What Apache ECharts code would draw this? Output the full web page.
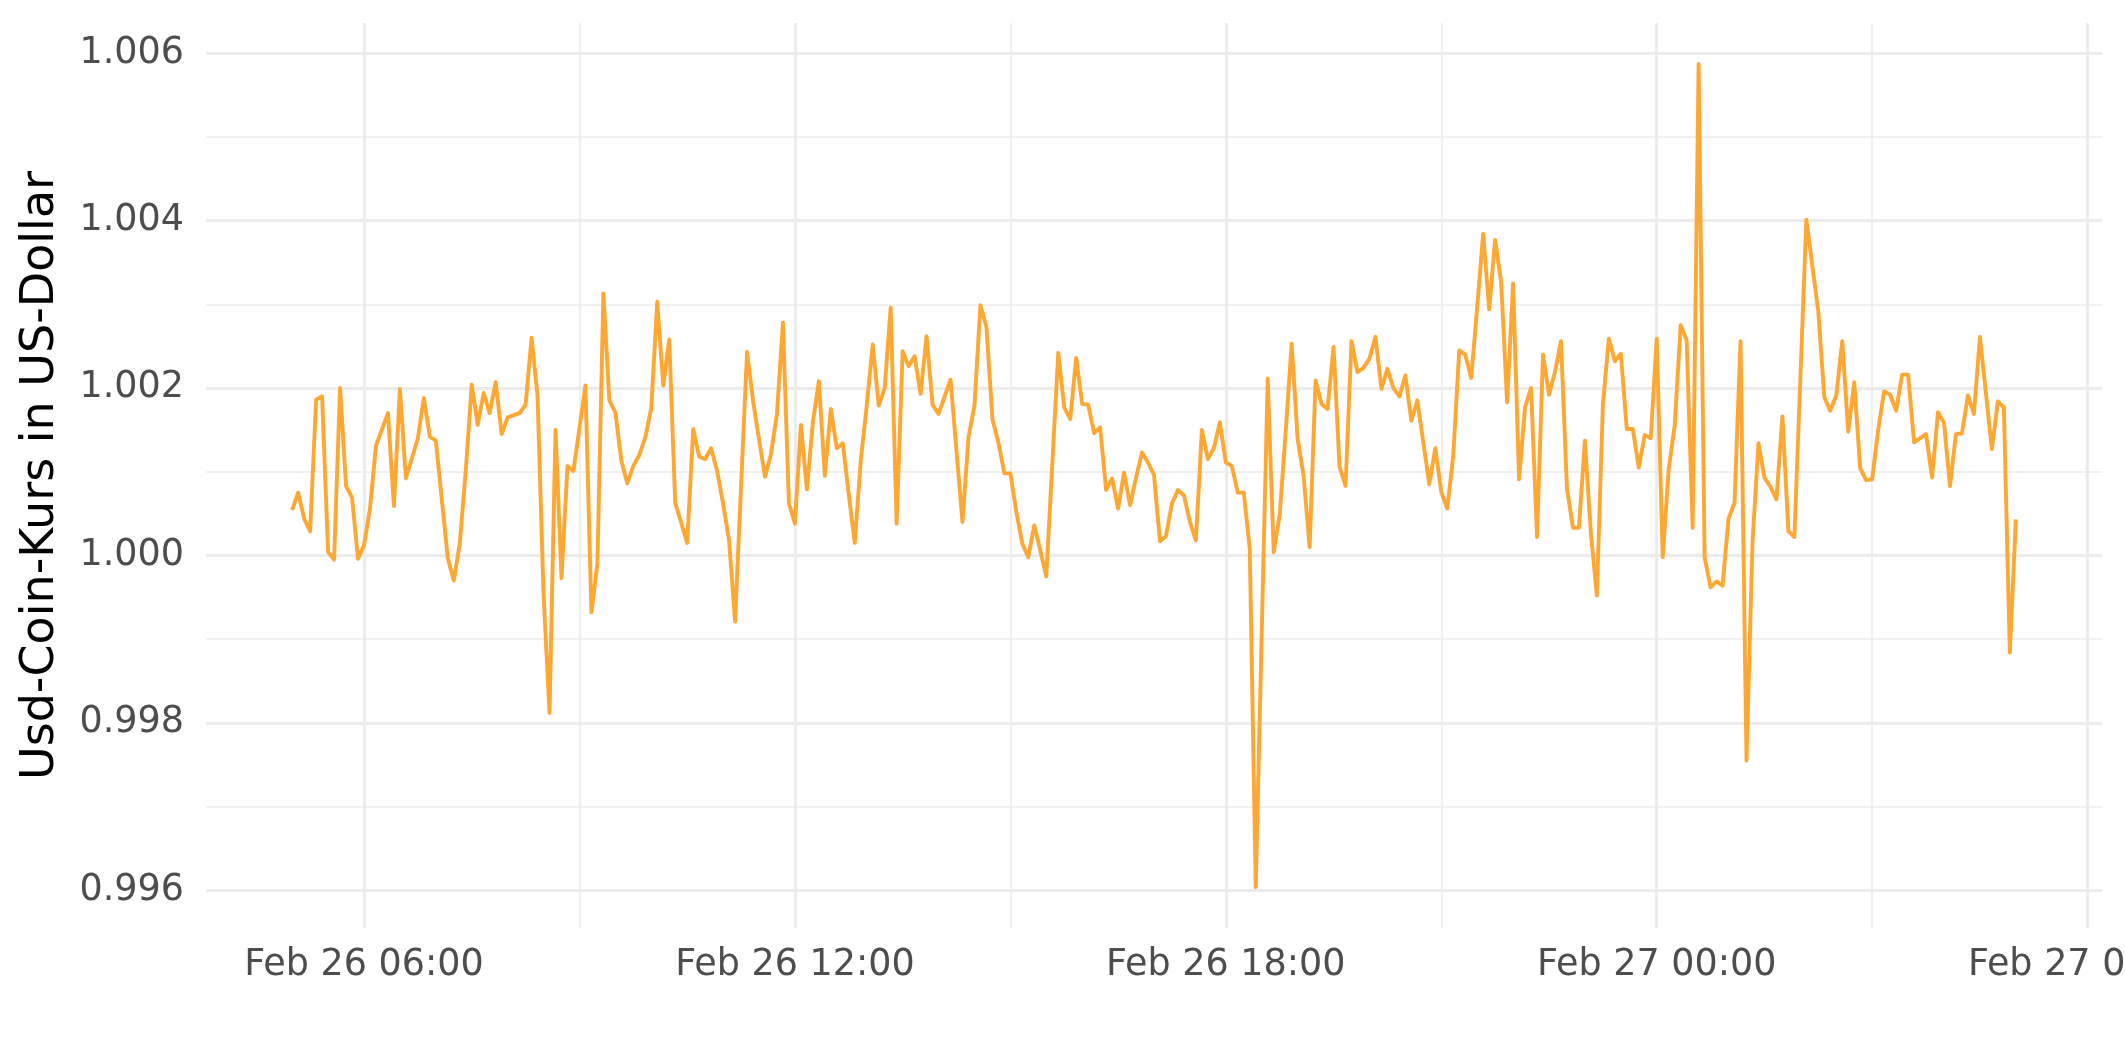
<!DOCTYPE html>
<html>
<head>
<meta charset="utf-8">
<script src="https://cdn.jsdelivr.net/npm/echarts@6/dist/echarts.min.js"></script>
<style>
  html, body { margin: 0; padding: 0; background: #ffffff; overflow: hidden; }
  #chart { width: 2125px; height: 1062px; }
</style>
</head>
<body>
<div id="chart"></div>
<script>
// minutes after Feb 26 05:00
const sampleMinutes = [
  0,5,10,15,20,25,30,35,40,45,
  50,55,60,65,70,80,85,90,95,105,
  110,115,120,130,135,140,145,150,155,160,
  165,170,175,180,190,195,200,205,210,215,
  220,225,230,235,245,250,255,260,265,270,
  275,280,285,290,295,300,305,310,315,320,
  325,330,335,340,345,350,355,360,365,370,
  380,385,390,395,400,405,410,415,420,425,
  430,435,440,445,450,455,460,465,470,475,
  480,485,490,495,500,505,510,515,520,525,
  530,535,540,550,560,565,570,575,580,585,
  590,595,600,605,610,615,620,625,630,640,
  645,650,655,660,665,670,675,680,685,690,
  695,700,705,710,715,720,725,730,735,740,
  745,750,755,760,765,770,775,780,785,790,
  795,800,805,815,820,825,830,835,840,845,
  850,855,860,865,870,875,880,885,890,895,
  900,905,910,915,920,925,930,935,940,945,
  950,955,960,965,970,975,980,985,990,995,
  1000,1005,1010,1015,1020,1025,1030,1035,1040,1045,
  1050,1055,1060,1065,1070,1075,1080,1085,1090,1095,
  1100,1105,1110,1115,1120,1125,1130,1135,1140,1145,
  1150,1155,1160,1165,1170,1175,1180,1185,1190,1195,
  1200,1205,1210,1215,1220,1225,1230,1235,1240,1245,
  1250,1255,1265,1275,1280,1285,1290,1295,1300,1305,
  1310,1315,1320,1325,1330,1335,1340,1345,1350,1355,
  1365,1370,1375,1380,1385,1390,1395,1400,1405,1410,
  1420,1425,1430,1435,1440
];
const usdcPrice = [
  1.00054,1.00075,1.00044,1.00029,1.00186,1.00190,1.00004,0.99995,1.00200,1.00083,
  1.00069,0.99996,1.00012,1.00056,1.00131,1.00170,1.00059,1.00199,1.00092,1.00140,
  1.00188,1.00142,1.00137,0.99997,0.99970,1.00014,1.00101,1.00204,1.00156,1.00194,
  1.00170,1.00207,1.00145,1.00165,1.00170,1.00180,1.00260,1.00190,0.99953,0.99812,
  1.00150,0.99973,1.00107,1.00101,1.00203,0.99932,0.99990,1.00313,1.00185,1.00171,
  1.00113,1.00086,1.00107,1.00120,1.00141,1.00176,1.00303,1.00203,1.00258,1.00063,
  1.00039,1.00015,1.00151,1.00118,1.00115,1.00128,1.00101,1.00062,1.00018,0.99921,
  1.00243,1.00185,1.00139,1.00094,1.00121,1.00169,1.00278,1.00062,1.00038,1.00156,
  1.00079,1.00159,1.00208,1.00095,1.00175,1.00128,1.00134,1.00073,1.00015,1.00113,
  1.00179,1.00252,1.00179,1.00200,1.00296,1.00038,1.00244,1.00226,1.00238,1.00193,
  1.00262,1.00180,1.00169,1.00210,1.00040,1.00141,1.00179,1.00299,1.00273,1.00163,
  1.00135,1.00098,1.00098,1.00052,1.00014,0.99998,1.00036,1.00006,0.99975,1.00242,
  1.00177,1.00163,1.00236,1.00181,1.00180,1.00146,1.00153,1.00078,1.00092,1.00056,
  1.00099,1.00060,1.00093,1.00123,1.00111,1.00096,1.00017,1.00023,1.00062,1.00078,
  1.00072,1.00040,1.00018,1.00150,1.00115,1.00128,1.00159,1.00111,1.00107,1.00075,
  1.00075,1.00008,0.99604,1.00211,1.00004,1.00048,1.00147,1.00253,1.00139,1.00095,
  1.00010,1.00209,1.00181,1.00175,1.00249,1.00106,1.00083,1.00256,1.00219,1.00224,
  1.00235,1.00261,1.00199,1.00223,1.00200,1.00190,1.00215,1.00161,1.00185,1.00135,
  1.00085,1.00128,1.00076,1.00056,1.00119,1.00245,1.00240,1.00212,1.00296,1.00384,
  1.00294,1.00377,1.00327,1.00183,1.00325,1.00091,1.00177,1.00200,1.00022,1.00240,
  1.00192,1.00219,1.00256,1.00080,1.00033,1.00033,1.00137,1.00026,0.99952,1.00180,
  1.00259,1.00232,1.00241,1.00151,1.00151,1.00105,1.00144,1.00140,1.00259,0.99998,
  1.00103,1.00155,1.00275,1.00257,1.00033,1.00587,0.99998,0.99962,0.99969,0.99964,
  1.00044,1.00063,1.00256,0.99755,1.00015,1.00134,1.00093,1.00082,1.00067,1.00166,
  1.00029,1.00022,1.00401,1.00291,1.00189,1.00173,1.00191,1.00256,1.00148,1.00207,
  1.00104,1.00090,1.00091,1.00150,1.00196,1.00192,1.00173,1.00216,1.00216,1.00135,
  1.00145,1.00093,1.00171,1.00158,1.00083,1.00145,1.00146,1.00191,1.00169,1.00261,
  1.00127,1.00184,1.00177,0.99884,1.00043
];
// hours counted from Feb 26 00:00
const xTickHours = [6, 12, 18, 24, 30];
const xMinorHours = [9, 15, 21, 27];
const yTicks = [0.996, 0.998, 1.000, 1.002, 1.004, 1.006];
const yMinorTicks = [0.997, 0.999, 1.001, 1.003, 1.005];
const yTitle = 'Usd-Coin-Kurs in US-Dollar';

const seriesData = sampleMinutes.map((m, i) => [5 + m / 60, usdcPrice[i]]);

function hourLabel(h) {
  const day = h >= 24 ? 27 : 26;
  const hh = Math.round(h) % 24;
  return 'Feb ' + day + ' ' + String(hh).padStart(2, '0') + ':00';
}

const GRID = '#EBEBEB';
const MAJOR_W = 2.8, MINOR_W = 1.5;
const gridLines = [];
xTickHours.forEach(h => gridLines.push({ xAxis: h, lineStyle: { color: GRID, width: MAJOR_W, type: 'solid' } }));
xMinorHours.forEach(h => gridLines.push({ xAxis: h, lineStyle: { color: GRID, width: MINOR_W, type: 'solid' } }));
yTicks.forEach(v => gridLines.push({ yAxis: v, lineStyle: { color: GRID, width: MAJOR_W, type: 'solid' } }));
yMinorTicks.forEach(v => gridLines.push({ yAxis: v, lineStyle: { color: GRID, width: MINOR_W, type: 'solid' } }));

const chart = echarts.init(document.getElementById('chart'), null, { renderer: 'canvas' });
chart.setOption({
  animation: false,
  backgroundColor: '#ffffff',
  textStyle: { fontFamily: 'DejaVu Sans' },
  grid: {
    left: 206, right: 23, top: 23, bottom: 134,
    containLabel: false,
    outerBoundsMode: 'none'
  },
  xAxis: {
    type: 'value',
    min: 3.8,
    max: 30.2,
    axisLine: { show: false },
    axisTick: { show: false },
    splitLine: { show: false },
    axisLabel: {
      customValues: xTickHours,
      formatter: hourLabel,
      color: '#4D4D4D',
      fontSize: 36.5,
      fontFamily: 'DejaVu Sans',
      margin: 19,
      hideOverlap: false
    }
  },
  yAxis: {
    type: 'value',
    min: 0.99555,
    max: 1.00636,
    name: yTitle,
    nameLocation: 'middle',
    nameGap: 142,
    nameRotate: 90,
    nameTextStyle: { color: '#000000', fontSize: 46, fontFamily: 'DejaVu Sans' },
    axisLine: { show: false },
    axisTick: { show: false },
    splitLine: { show: false },
    axisLabel: {
      customValues: yTicks,
      formatter: v => v.toFixed(3),
      color: '#4D4D4D',
      fontSize: 36.5,
      fontFamily: 'DejaVu Sans',
      margin: 22
    }
  },
  series: [
    {
      type: 'line',
      data: [],
      silent: true,
      markLine: {
        silent: true,
        z: 0,
        precision: 6,
        symbol: ['none', 'none'],
        label: { show: false },
        emphasis: { disabled: true },
        data: gridLines
      }
    },
    {
      type: 'line',
      z: 10,
      data: seriesData,
      showSymbol: false,
      symbol: 'none',
      lineStyle: { color: '#FFA733', width: 3.9, join: 'round' },
      itemStyle: { color: '#FFA733' }
    }
  ]
});
</script>
</body>
</html>
